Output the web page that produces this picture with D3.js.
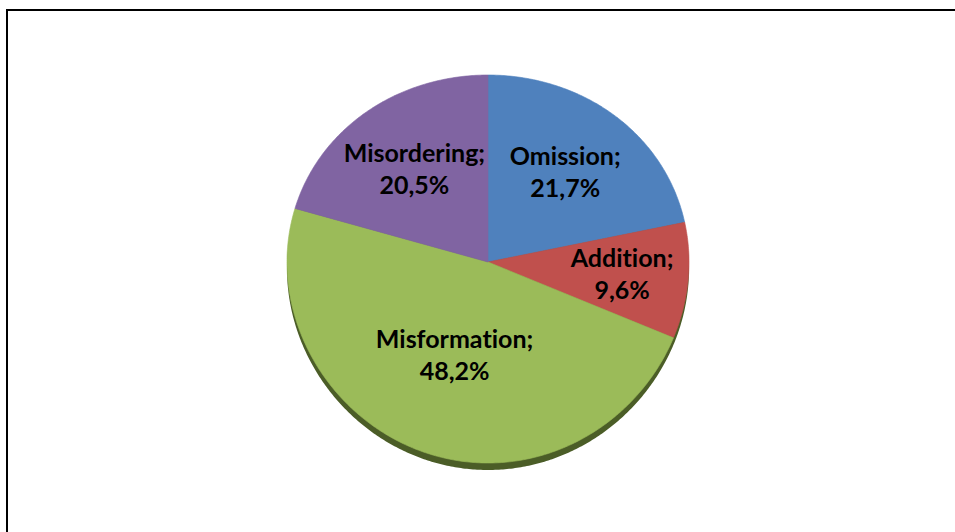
<!DOCTYPE html>
<html>
<head>
<meta charset="utf-8">
<script src="https://cdn.jsdelivr.net/npm/d3@7"></script>
<style>
  body { margin: 0; background: #fff; }
  svg { display: block; }
</style>
</head>
<body>
<div id="chart"></div>
<script>
// data
const categories = ['Omission', 'Addition', 'Misformation', 'Misordering'];
const shares = [21.7, 9.6, 48.2, 20.5];
const colors = ['#4F81BD', '#C0504D', '#9BBB59', '#8064A2'];

const width = 955;
const height = 532;

// tilted pie: unit circle -> screen
const cx = 488, cy = 262, rx = 201, ryA = 194, ryB = 7;
const project = (x, y) => [cx + rx * x, cy + ryA * y + ryB * y * y];

// label radius (fraction of radius) per slice, default 0.61
const labelFrac = { Addition: 0.67, Misformation: 0.5 };

const fmt = v => d3.format('.1f')(v).replace('.', ',') + '%';

const svg = d3.select('#chart')
    .append('svg')
    .attr('width', width)
    .attr('height', height);

// frame
svg.append('rect')
    .attr('x', 7)
    .attr('y', 10)
    .attr('width', width + 20)
    .attr('height', height + 20)
    .attr('fill', 'none')
    .attr('stroke', '#000')
    .attr('stroke-width', 2);

const pie = d3.pie().sort(null).value(d => d.value);
const arcs = pie(categories.map((c, i) => ({ name: c, value: shares[i], color: colors[i] })));

const line = d3.line();

const slicePoints = (a0, a1, dy = 0) => {
    const n = Math.max(2, Math.ceil((a1 - a0) / 0.01));
    const pts = [[0, 0]].concat(d3.range(n + 1).map(k => {
        const a = a0 + (a1 - a0) * k / n;
        return [Math.sin(a), -Math.cos(a)];
    }));
    return pts.map(p => {
        const q = project(p[0], p[1]);
        return [q[0], q[1] + dy];
    });
};

// rim / shadow under the pie
svg.append('path')
    .attr('d', line(slicePoints(0, 2 * Math.PI, 7)) + 'Z')
    .attr('fill', '#4b5d27');

// slices
svg.append('g')
    .selectAll('path')
    .data(arcs)
    .enter()
    .append('path')
    .attr('d', d => line(slicePoints(d.startAngle, d.endAngle)) + 'Z')
    .attr('fill', d => d.data.color)
    .attr('stroke', d => d.data.color)
    .attr('stroke-width', 0.6);

// labels
const labels = svg.append('g')
    .selectAll('text')
    .data(arcs)
    .enter()
    .append('text')
    .attr('text-anchor', 'middle')
    .style('font-family', 'Lato, "Open Sans", sans-serif')
    .style('font-weight', 'bold')
    .style('font-size', '25px')
    .style('font-variant-ligatures', 'none')
    .style('font-feature-settings', '"liga" 0, "clig" 0')
    .attr('fill', '#000')
    .attr('transform', d => {
        const mid = (d.startAngle + d.endAngle) / 2;
        const f = labelFrac[d.data.name] || 0.61;
        const p = project(f * Math.sin(mid), -f * Math.cos(mid));
        return `translate(${p[0]}, ${p[1]})`;
    });

labels.append('tspan')
    .attr('x', 0)
    .attr('y', -7)
    .text(d => d.data.name + ';');

labels.append('tspan')
    .attr('x', 0)
    .attr('y', 25)
    .text(d => fmt(d.data.value));
</script>
</body>
</html>
